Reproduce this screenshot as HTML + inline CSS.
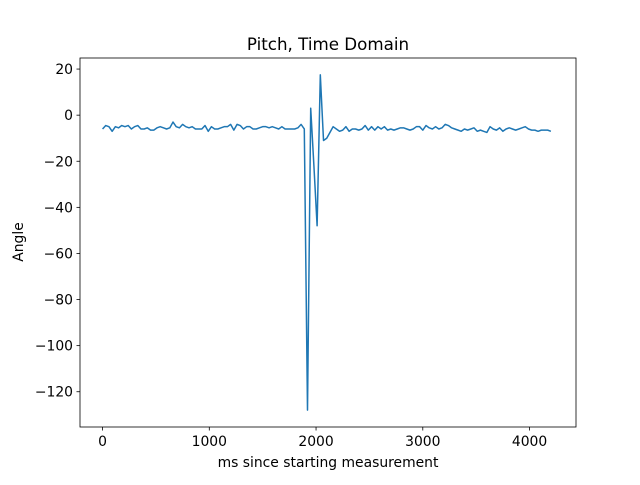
<!DOCTYPE html>
<html><head><meta charset="utf-8"><style>
body{margin:0;background:#fff}
svg text{font-family:"DejaVu Sans","Liberation Sans",sans-serif;fill:#000}
</style></head><body>
<svg id="c" width="640" height="480">
<rect x="0" y="0" width="640" height="480" fill="#fff"/>
<text x="328" y="50" font-size="16.7" text-anchor="middle">Pitch, Time Domain</text>
<text x="328" y="467" font-size="13.9" text-anchor="middle">ms since starting measurement</text>
<text x="23" y="242" font-size="13.9" text-anchor="middle" transform="rotate(-90 23 242)">Angle</text>
<g id="ticks"></g>
<path id="line" fill="none" stroke="#1f77b4" stroke-width="1.5" stroke-linejoin="round"/>
<rect x="80" y="58" width="496" height="369" fill="none" stroke="#000" stroke-width="0.8"/>
</svg>
<script>
const xTicks=[0,1000,2000,3000,4000];
const yTicks=[20,0,-20,-40,-60,-80,-100,-120];
const stepMs=30;
const angles=[-6,-4.5,-5,-7,-5,-5.5,-4.5,-5,-4.5,-6,-5,-4.5,-6,-6,-5.5,-6.5,-6.5,-5.5,-5,-5.5,-6,-5.5,-3,-5,-5.5,-4,-5,-5.5,-5,-6,-6,-6,-4.5,-7,-5,-6,-6,-5.5,-5,-5,-4,-6.5,-4,-4.5,-6,-5,-5,-6,-6,-5.5,-5,-5,-5.5,-5,-5.5,-6,-5,-6,-6,-6,-6,-5.5,-4,-6,-128,3,-22,-48,17.5,-11,-10,-7.5,-5,-6,-7,-6.5,-5,-7,-6,-6,-6.5,-6,-4.5,-6.5,-5,-6.5,-5,-6,-5,-6.5,-6,-6.5,-6,-5.5,-5.5,-6,-6.5,-6,-5,-5,-6.5,-4.5,-5.5,-6,-5,-6,-5.5,-4,-4.5,-5.5,-6,-6.5,-7,-6,-6.5,-6,-5.5,-7,-6.5,-7,-7.5,-5,-6,-6.5,-5.5,-7,-6,-5.5,-6,-6.5,-6,-5.5,-5,-6,-6.5,-6.5,-7,-6.5,-6.5,-6.5,-7];
const xMin=-211.2,xMax=4435.2,yMin=-135.3,yMax=24.8;
const L=80,R=576,T=58,B=427;
const sx=v=>L+(v-xMin)/(xMax-xMin)*(R-L);
const sy=v=>T+(yMax-v)/(yMax-yMin)*(B-T);
const NS="http://www.w3.org/2000/svg";
const g=document.getElementById('ticks');
function mk(tag,attrs,txt){const e=document.createElementNS(NS,tag);for(const k in attrs)e.setAttribute(k,attrs[k]);if(txt!==undefined)e.textContent=txt;g.appendChild(e);return e;}
xTicks.forEach(v=>{const x=sx(v);
 const t=mk('line',{x1:x,x2:x,y1:B,y2:B+3.5,stroke:'#000','stroke-width':0.8});
 
 
 const l=mk('text',{x:x,y:B+19,'font-size':13.9,'text-anchor':'middle'},String(v));
 
 
});
yTicks.forEach(v=>{const y=sy(v);
 const t=mk('line',{x1:L-3.5,x2:L,y1:y,y2:y,stroke:'#000','stroke-width':0.8});
 
 
 const l=mk('text',{x:L-7,y:y+5,'font-size':13.9,'text-anchor':'end'},String(v).replace('-','\u2212'));
 
 
});
document.getElementById('line').setAttribute('d',angles.map((a,i)=>(i?'L':'M')+sx(i*stepMs).toFixed(2)+','+sy(a).toFixed(2)).join(''));
</script>
</body></html>
